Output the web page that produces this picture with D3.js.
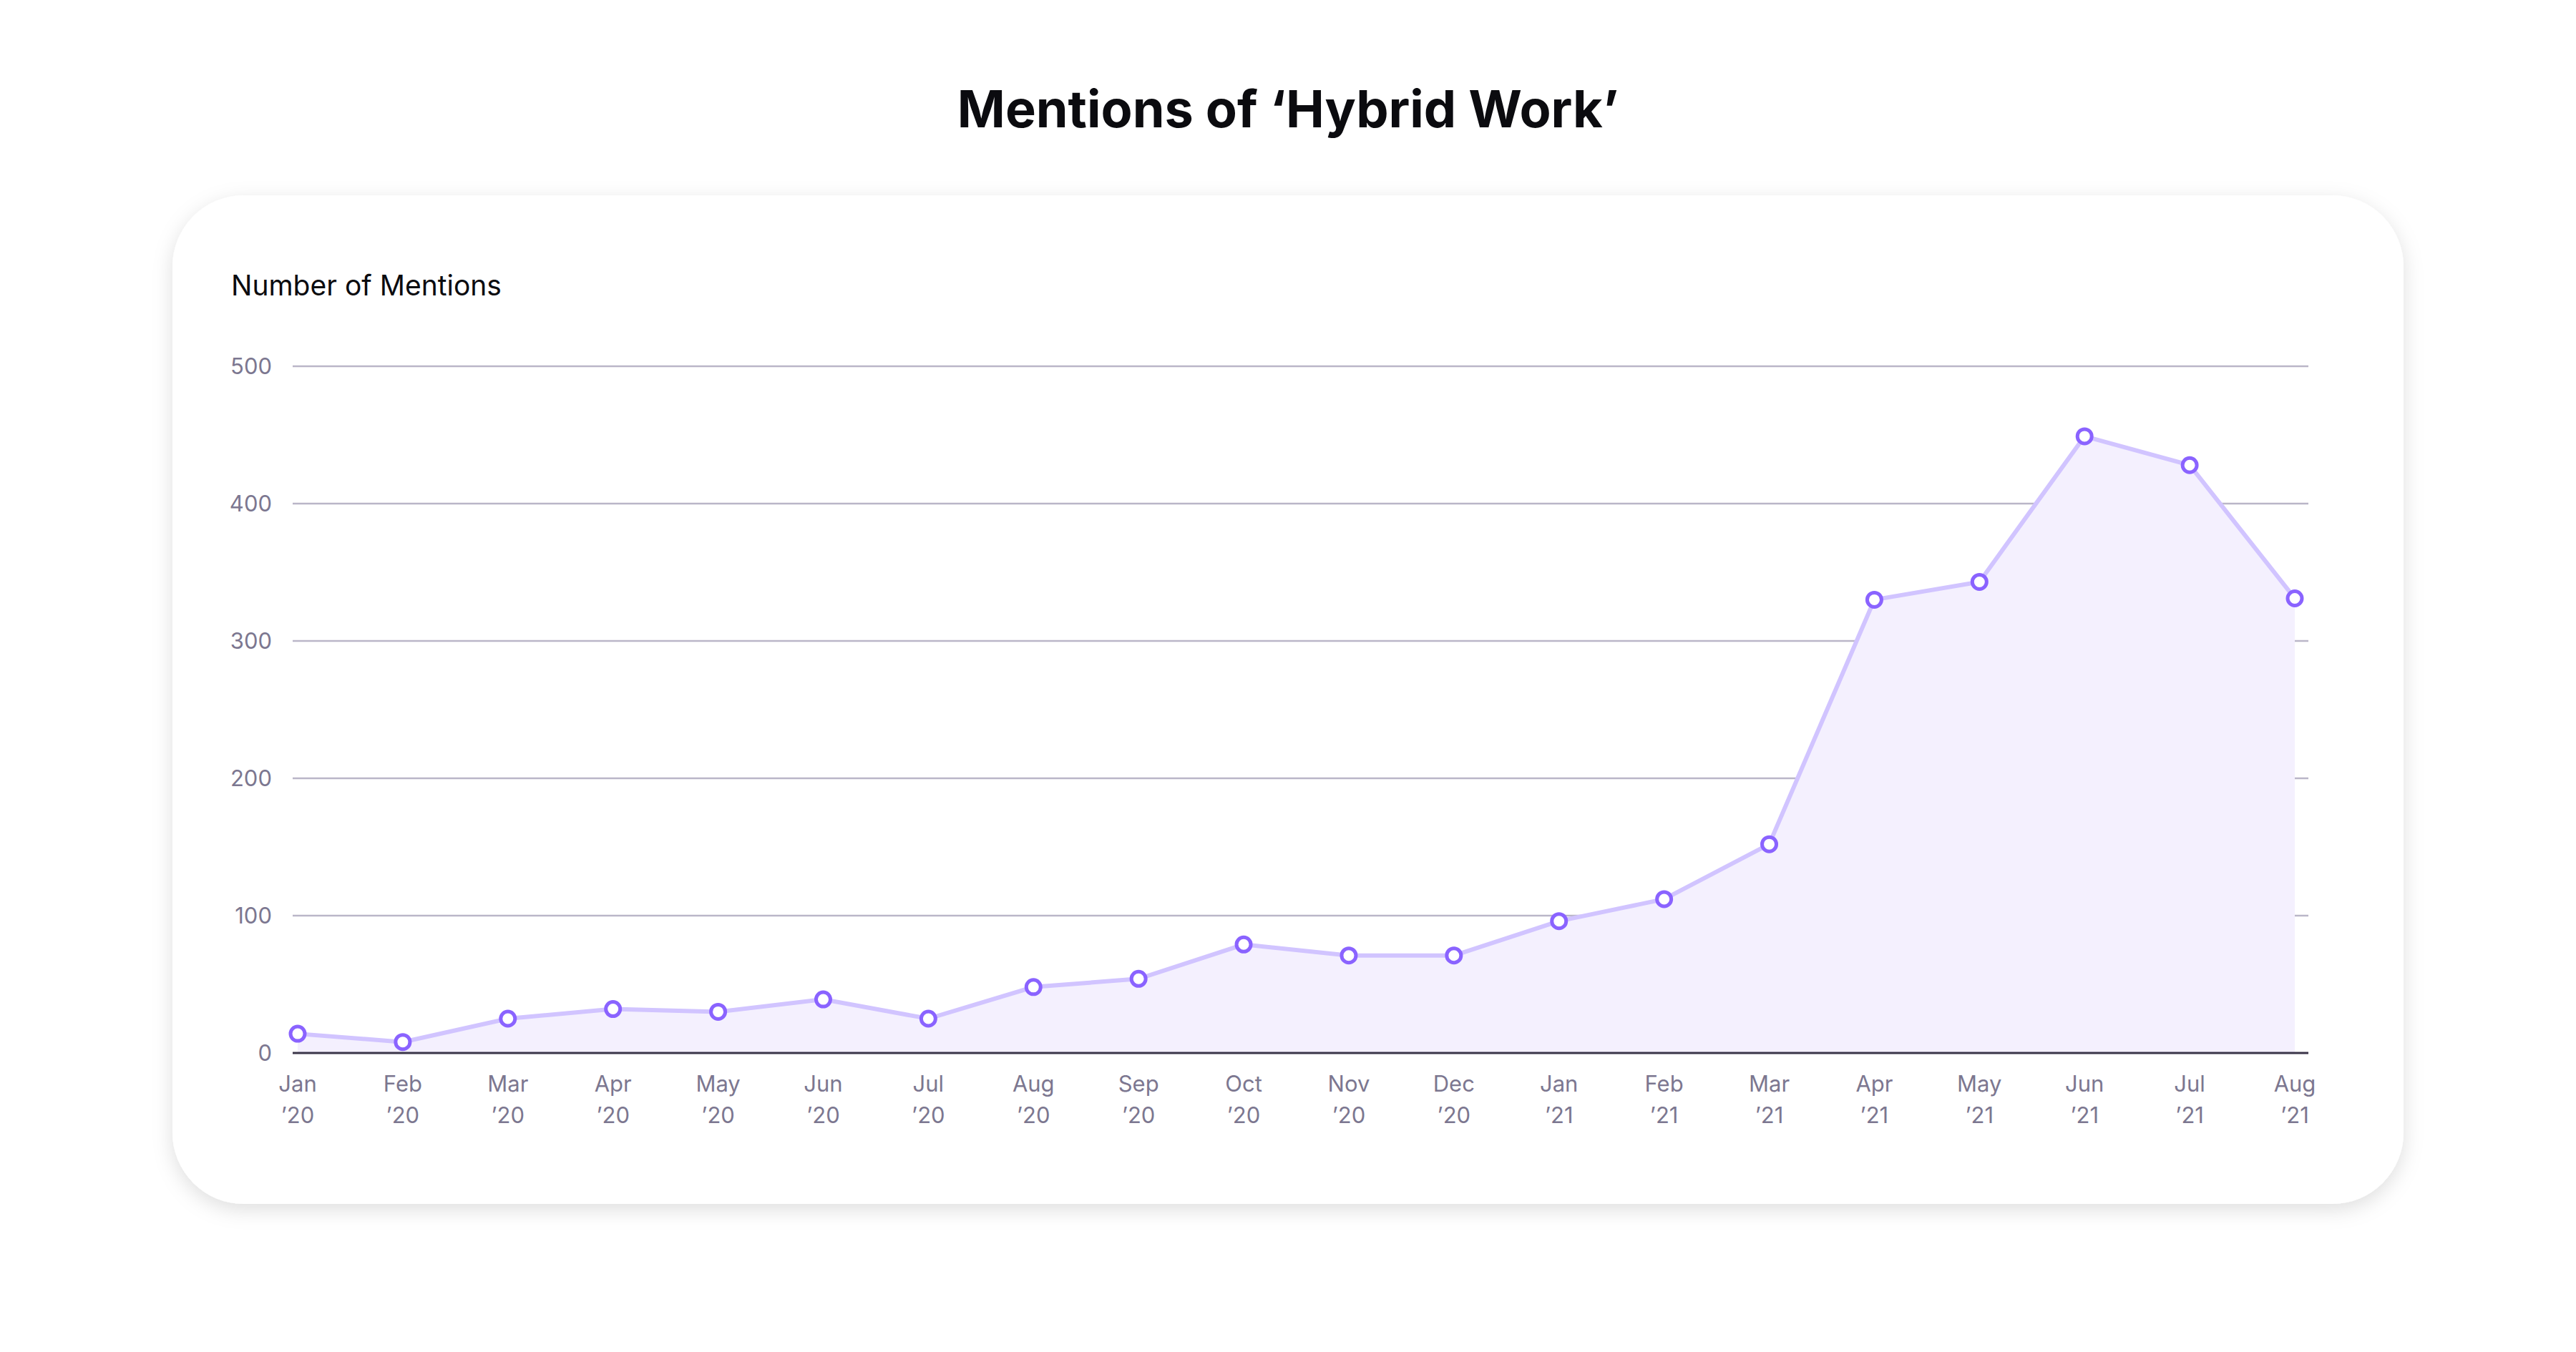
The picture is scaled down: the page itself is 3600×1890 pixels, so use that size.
<!DOCTYPE html>
<html>
<head>
<meta charset="utf-8">
<script src="https://cdn.jsdelivr.net/npm/d3@7"></script>
<style>
  body { margin: 0; background: #fff; }
  svg { display: block; font-family: Inter, "Noto Sans", sans-serif; }
</style>
</head>
<body>
<div id="chart"></div>
<script>
const months = ["Jan", "Feb", "Mar", "Apr", "May", "Jun", "Jul", "Aug", "Sep", "Oct", "Nov", "Dec",
                "Jan", "Feb", "Mar", "Apr", "May", "Jun", "Jul", "Aug"];
const years = ["’20", "’20", "’20", "’20", "’20", "’20", "’20", "’20", "’20", "’20", "’20", "’20",
               "’21", "’21", "’21", "’21", "’21", "’21", "’21", "’21"];
const mentions = [14, 8, 25, 32, 30, 39, 25, 48, 54, 79, 71, 71, 96, 112, 152, 330, 343, 449, 428, 331];
const yTicks = [0, 100, 200, 300, 400, 500];

const W = 3600, H = 1890;
const svg = d3.select("#chart").append("svg").attr("width", W).attr("height", H);

const defs = svg.append("defs");
const shadow = defs.append("filter").attr("id", "shadow")
    .attr("x", "-10%").attr("y", "-10%").attr("width", "120%").attr("height", "130%");
shadow.append("feDropShadow").attr("dx", 0).attr("dy", 8).attr("stdDeviation", 14)
    .attr("flood-color", "#000").attr("flood-opacity", 0.13);

svg.append("text")
    .attr("x", 1800).attr("y", 178)
    .attr("text-anchor", "middle")
    .attr("font-size", 72).attr("font-weight", 700).attr("fill", "#0b0b0f")
    .text("Mentions of ‘Hybrid Work’");

svg.append("rect")
    .attr("x", 241).attr("y", 273).attr("width", 3118).attr("height", 1410)
    .attr("rx", 100).attr("fill", "#fff").attr("filter", "url(#shadow)");

svg.append("text")
    .attr("x", 323).attr("y", 413)
    .attr("font-size", 39).attr("fill", "#0b0b0f")
    .text("Number of Mentions");

const x = d3.scalePoint().domain(d3.range(months.length)).range([416, 3207]);
const y = d3.scaleLinear().domain([0, 500]).range([1472, 512]);

// grid
svg.append("g").selectAll("line").data(yTicks.slice(1)).join("line")
    .attr("x1", 409).attr("x2", 3226)
    .attr("y1", d => y(d)).attr("y2", d => y(d))
    .attr("stroke", "#bab6c8").attr("stroke-width", 2.5);

svg.append("g").selectAll("text").data(yTicks).join("text")
    .attr("x", 380).attr("y", d => y(d) + 11)
    .attr("text-anchor", "end").attr("font-size", 31).attr("fill", "#7c7790")
    .text(d => d);

const idx = d3.range(mentions.length);

svg.append("path")
    .datum(idx)
    .attr("fill", "#f4f0fe")
    .attr("d", d3.area().x(i => x(i)).y0(y(0)).y1(i => y(mentions[i])));

svg.append("line")
    .attr("x1", 409).attr("x2", 3226).attr("y1", y(0)).attr("y2", y(0))
    .attr("stroke", "#3a3548").attr("stroke-width", 3);

svg.append("path")
    .datum(idx)
    .attr("fill", "none").attr("stroke", "#d1c4ff").attr("stroke-width", 6)
    .attr("d", d3.line().x(i => x(i)).y(i => y(mentions[i])));

svg.append("g").selectAll("circle").data(idx).join("circle")
    .attr("cx", i => x(i)).attr("cy", i => y(mentions[i])).attr("r", 10)
    .attr("fill", "#fff").attr("stroke", "#8a63ff").attr("stroke-width", 5);

const xl = svg.append("g").selectAll("text").data(idx).join("text")
    .attr("text-anchor", "middle").attr("font-size", 31).attr("fill", "#7c7790");
xl.append("tspan").attr("x", i => x(i)).attr("y", 1526).text(i => months[i]);
xl.append("tspan").attr("x", i => x(i)).attr("y", 1570).text(i => years[i]);
</script>
</body>
</html>
